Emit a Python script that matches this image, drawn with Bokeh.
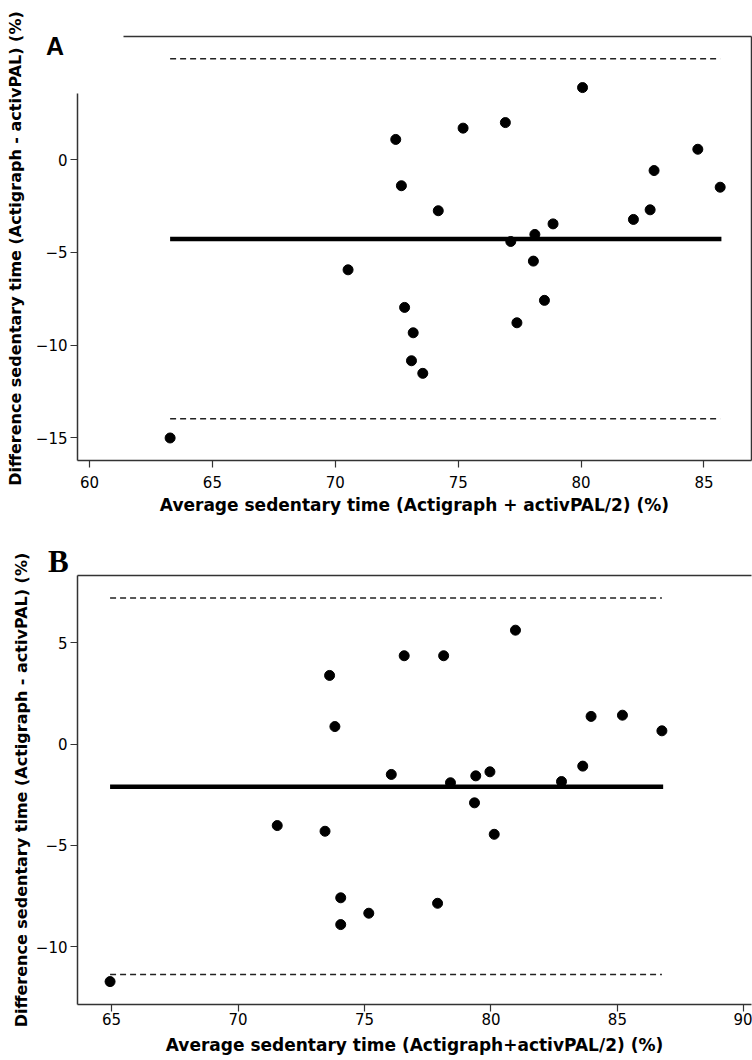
from bokeh.plotting import figure
from bokeh.models import Range1d, LinearAxis, FixedTicker, Div
from bokeh.layouts import column
from bokeh.embed import file_html
from bokeh.resources import INLINE

# ---------------- data ----------------
# Panel A
a_avg = [63.28, 70.52, 72.46, 72.69, 72.82, 73.10, 73.17, 73.56, 74.19, 75.20, 76.92, 77.14,
         77.39, 78.06, 78.12, 78.51, 78.86, 80.06, 82.13, 82.81, 82.97, 84.75, 85.66]
a_diff = [-15.02, -5.94, 1.10, -1.40, -7.97, -10.85, -9.34, -11.53, -2.75, 1.71, 2.01, -4.41,
          -8.80, -5.47, -4.03, -7.59, -3.46, 3.90, -3.22, -2.70, -0.58, 0.57, -1.48]
a_mean = -4.27
a_upper = 5.45
a_lower = -13.98
a_xticks = [60, 65, 70, 75, 80, 85]
a_yticks = [-15, -10, -5, 0]

# Panel B
b_avg = [64.94, 71.55, 73.44, 73.62, 73.83, 74.06, 74.06, 75.17, 76.06, 76.57, 77.89, 78.13,
         78.40, 79.35, 79.40, 79.96, 80.13, 80.97, 82.79, 83.63, 83.96, 85.20, 86.76]
b_diff = [-11.71, -4.02, -4.30, 3.38, 0.86, -7.58, -8.90, -8.34, -1.50, 4.35, -7.85, 4.35,
          -1.91, -2.90, -1.57, -1.37, -4.45, 5.61, -1.85, -1.09, 1.36, 1.42, 0.65]
b_mean = -2.11
b_upper = 7.19
b_lower = -11.36
b_xticks = [65, 70, 75, 80, 85, 90]
b_yticks = [-10, -5, 0, 5]

y_title = "Difference sedentary time (Actigraph - activPAL) (%)"
a_x_title = "Average sedentary time (Actigraph + activPAL/2) (%)"
b_x_title = "Average sedentary time (Actigraph+activPAL/2) (%)"
panel_letters = ["A", "B"]

AX_COLOR = "#333333"
FONT = "DejaVu Sans"


def style_axis(ax, ticks, label_standoff, title_standoff, title_size):
    ax.ticker = FixedTicker(ticks=ticks)
    ax.axis_line_color = AX_COLOR
    ax.axis_line_width = 1.5
    ax.major_tick_line_color = AX_COLOR
    ax.major_tick_line_width = 1.2
    ax.major_tick_out = 7
    ax.major_tick_in = 0
    ax.minor_tick_line_color = None
    ax.major_label_text_font = FONT
    ax.major_label_text_font_size = "15px"
    ax.major_label_text_color = "black"
    ax.major_label_standoff = label_standoff
    ax.axis_label_text_font = FONT
    ax.axis_label_text_font_style = "bold"
    ax.axis_label_text_font_size = title_size
    ax.axis_label_text_color = "black"
    ax.axis_label_standoff = title_standoff


def bare_axis(p, side, bounds=None):
    ax = LinearAxis(ticker=FixedTicker(ticks=[]))
    ax.axis_line_color = AX_COLOR
    ax.axis_line_width = 1.5
    ax.major_tick_line_color = None
    ax.minor_tick_line_color = None
    ax.major_label_text_font_size = "0px"
    if bounds is not None:
        ax.bounds = bounds
    p.add_layout(ax, side)
    return ax


def base_fig(height, x_range, y_range, mb_left, mb_top, mb_bottom, mb_right):
    p = figure(width=752, height=height, x_range=x_range, y_range=y_range,
               output_backend="svg", toolbar_location=None,
               min_border_left=mb_left, min_border_top=mb_top,
               min_border_bottom=mb_bottom, min_border_right=mb_right)
    p.outline_line_color = None
    p.xgrid.visible = False
    p.ygrid.visible = False
    p.background_fill_color = "white"
    p.border_fill_color = "white"
    return p


def draw_panel(p, avg, diff, mean, upper, lower):
    x0 = min(avg)
    x1 = max(avg)
    p.segment(x0=[x0, x0], y0=[upper, lower], x1=[x1, x1], y1=[upper, lower],
              line_color="#222222", line_width=1.5, line_dash="6 4")
    p.segment(x0=[x0], y0=[mean], x1=[x1 + 0.05], y1=[mean],
              line_color="black", line_width=4.5)
    p.scatter(avg, diff, size=10, marker="circle", fill_color="black", line_color="black")


def letter_div(letter, left, top, family, size):
    return Div(text=letter, margin=0,
               styles={"position": "absolute", "left": f"{left}px", "top": f"{top}px",
                       "font-family": family, "font-weight": "bold",
                       "font-size": f"{size}px", "line-height": "1", "color": "black",
                       "z-index": "10"})


# ---------------- Panel A ----------------
pa = base_fig(530, Range1d(59.512, 86.934), Range1d(-16.236, 6.658),
              mb_left=77, mb_top=36, mb_bottom=70, mb_right=1)
draw_panel(pa, a_avg, a_diff, a_mean, a_upper, a_lower)
style_axis(pa.xaxis[0], a_xticks, 8, 4, "17px")
style_axis(pa.yaxis[0], a_yticks, 3, 8, "16px")
pa.xaxis[0].axis_label = a_x_title
pa.yaxis[0].axis_label = y_title
pa.yaxis[0].bounds = (-16.236, 3.56)
bare_axis(pa, "above", bounds=(61.37, 86.934))
bare_axis(pa, "right")

# ---------------- Panel B ----------------
pb = base_fig(530, Range1d(63.652, 90.303), Range1d(-12.839, 8.305),
              mb_left=74, mb_top=45, mb_bottom=56, mb_right=0)
draw_panel(pb, b_avg, b_diff, b_mean, b_upper, b_lower)
style_axis(pb.xaxis[0], b_xticks, 1, 7, "17px")
style_axis(pb.yaxis[0], b_yticks, 3, 2, "16px")
pb.xaxis[0].axis_label = b_x_title
pb.yaxis[0].axis_label = y_title
bare_axis(pb, "above")

div_a = letter_div(panel_letters[0], 46, 34, "'Liberation Sans', Arial, sans-serif", 25)
div_b = letter_div(panel_letters[1], 48, 546, "'Liberation Serif', 'Times New Roman', serif", 31)

layout = column(pa, pb, div_a, div_b, spacing=0)
open("out.html", "w").write(file_html(layout, INLINE))
